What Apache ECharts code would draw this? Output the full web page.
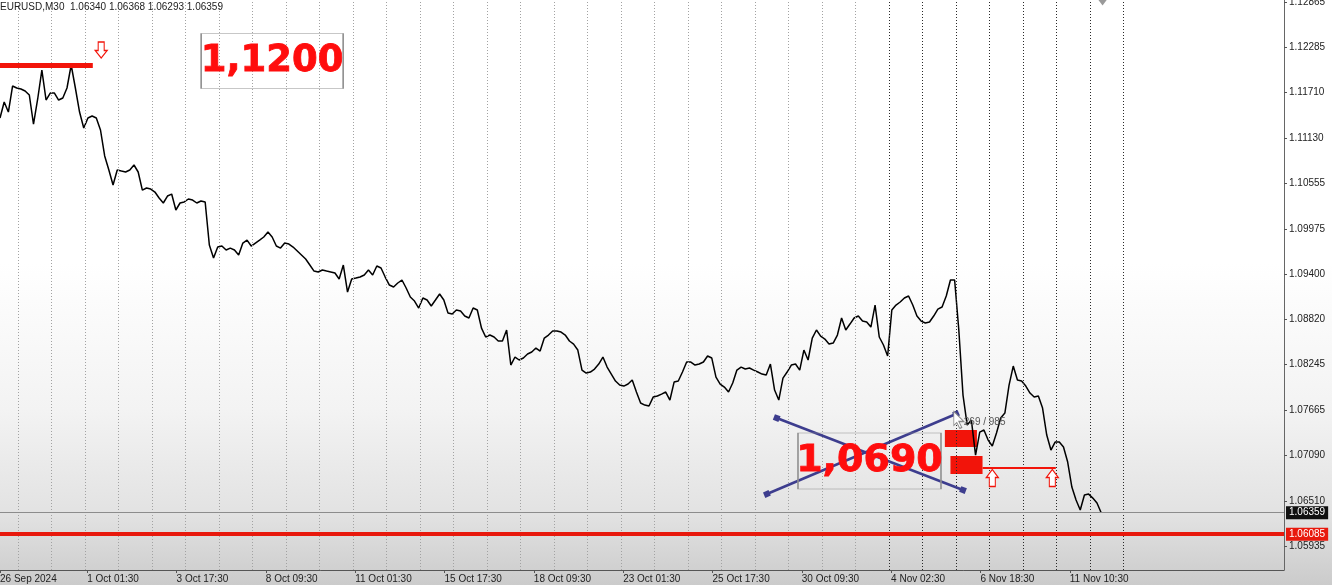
<!DOCTYPE html>
<html><head><meta charset="utf-8">
<script src="https://cdn.jsdelivr.net/npm/echarts@6/dist/echarts.min.js"></script>
<style>html,body{margin:0;padding:0;background:#fff}#c{width:1332px;height:585px}</style>
</head><body><div id="c"></div>
<script>
// ---------- data ----------
const headerText = 'EURUSD,M30  1.06340 1.06368 1.06293 1.06359';
const STEP_BARS = 6;            // one sample every 6 M30 bars (3 hours)
const TOTAL_BARS = 1840;        // bars visible across the plot
const closePrices = [
1.11387,1.11591,1.11463,1.11794,1.11769,1.11756,1.11731,1.11680,1.11310,1.11629,
1.11998,1.11616,1.11705,1.11705,1.11616,1.11642,1.11769,1.12062,1.11769,1.11463,
1.11259,1.11387,1.11412,1.11387,1.11234,1.10903,1.10724,1.10533,1.10724,1.10711,
1.10699,1.10724,1.10788,1.10699,1.10469,1.10495,1.10482,1.10444,1.10368,1.10304,
1.10393,1.10418,1.10215,1.10304,1.10317,1.10355,1.10342,1.10304,1.10329,1.10317,
1.09769,1.09603,1.09743,1.09756,1.09705,1.09730,1.09705,1.09641,1.09794,1.09832,
1.09756,1.09794,1.09832,1.09871,1.09934,1.09871,1.09756,1.09730,1.09794,1.09781,
1.09743,1.09692,1.09641,1.09590,1.09514,1.09437,1.09425,1.09450,1.09437,1.09425,
1.09412,1.09336,1.09514,1.09170,1.09336,1.09348,1.09361,1.09387,1.09450,1.09387,
1.09501,1.09476,1.09361,1.09259,1.09234,1.09285,1.09323,1.09221,1.09106,1.09055,
1.08966,1.09094,1.09068,1.08992,1.09068,1.09145,1.09068,1.08902,1.08890,1.08941,
1.08928,1.08864,1.08839,1.08966,1.08941,1.08711,1.08597,1.08622,1.08597,1.08546,
1.08546,1.08686,1.08240,1.08342,1.08304,1.08329,1.08380,1.08406,1.08456,1.08418,
1.08584,1.08622,1.08673,1.08673,1.08660,1.08622,1.08546,1.08507,1.08431,1.08176,
1.08138,1.08151,1.08189,1.08253,1.08342,1.08214,1.08125,1.08036,1.07985,1.07972,
1.07998,1.08049,1.07896,1.07756,1.07730,1.07718,1.07832,1.07845,1.07870,1.07896,
1.07794,1.08023,1.08036,1.08151,1.08278,1.08278,1.08240,1.08253,1.08278,1.08355,
1.08329,1.08087,1.07998,1.07959,1.07896,1.08011,1.08176,1.08214,1.08189,1.08202,
1.08176,1.08151,1.08125,1.08112,1.08253,1.07921,1.07794,1.08074,1.08151,1.08240,
1.08253,1.08176,1.08431,1.08304,1.08584,1.08686,1.08609,1.08571,1.08507,1.08520,
1.08622,1.08839,1.08686,1.08762,1.08839,1.08864,1.08800,1.08788,1.08724,1.09004,
1.08597,1.08495,1.08355,1.08941,1.09004,1.09043,1.09094,1.09119,1.09004,1.08864,
1.08800,1.08775,1.08788,1.08864,1.08953,1.08979,1.09119,1.09323,1.09323,1.08686,
1.07857,1.07475,1.07539,1.07093,1.07386,1.07412,1.07284,1.07208,1.07374,1.07565,
1.07628,1.07985,1.08227,1.08049,1.08036,1.07972,1.07883,1.07832,1.07845,1.07692,
1.07348,1.07157,1.07259,1.07259,1.07195,1.07004,1.06686,1.06520,1.06393,1.06584,
1.06596,1.06545,1.06482,1.06359
];
const xTickBars = [0,125,253,381,509,637,765,893,1021,1149,1277,1405,1533];
const xTickLabels = ['26 Sep 2024','1 Oct 01:30','3 Oct 17:30','8 Oct 09:30','11 Oct 01:30','15 Oct 17:30',
  '18 Oct 09:30','23 Oct 01:30','25 Oct 17:30','30 Oct 09:30','4 Nov 02:30','6 Nov 18:30','11 Nov 10:30'];
const daySeparatorBars = [26,74,122,170,218,266,314,362,410,458,506,554,602,650,698,746,794,842,
  890,938,986,1034,1082,1130,1178,1226,1274,1322,1370,1418,1466,1514,1562,1610];
const darkSeparatorFromBar = 1274;
const yTickValues = [1.05935,1.06510,1.07090,1.07665,1.08245,1.08820,1.09400,1.09975,1.10555,1.11130,1.11710,1.12285,1.12865];
const yMin = 1.05629, yMax = 1.12890;
const lastPrice = 1.06359;
const supportLevel = 1.06085;

// annotations (bar, price)
const topRedLine = [[0,1.12062],[133,1.12062]];
const downArrowAt = [145,1.12253];
const box1 = {text:'1,1200', at:[390,1.12113]};
const box2 = {text:'1,0690', at:[1246,1.07017]};
const crossLineA = [[1113,1.07565],[1380,1.06648]];
const crossLineB = [[1099,1.06597],[1370,1.07616]];
const redRect1 = [[1354,1.07412],[1400,1.07195]];
const redRect2 = [[1362,1.07081],[1408,1.06851]];
const thinRedLine = [[1408,1.06928],[1513,1.06928]];
const upArrowsAt = [[1422,1.06800],[1508,1.06800]];
const cursorAt = [1374,1.07540];
const measureText = {text:'269 / 985', at:[1411,1.07514]};
const shiftMarkAt = [1580,1.12858];

// ---------- chart ----------
const RED = '#f2140a';
const pricePoints = closePrices.map((p,i)=>[i*STEP_BARS,p]);
const chart = echarts.init(document.getElementById('c'), null, {renderer:'canvas'});
const F = 'Liberation Sans, Arial, sans-serif';
chart.setOption({
  animation:false,
  backgroundColor:{type:'linear',x:0,y:0,x2:0,y2:1,colorStops:[
    {offset:0,color:'#ffffff'},{offset:0.45,color:'#ffffff'},{offset:0.7,color:'#f3f3f3'},
    {offset:0.88,color:'#e2e2e2'},{offset:1,color:'#cbcbcb'}]},
  title:{text:headerText,left:0,top:0,padding:[2,0,0,0],textStyle:{fontSize:10,fontWeight:'normal',color:'#222',fontFamily:F}},
  grid:{left:0,right:48,top:0,bottom:15,outerBoundsMode:'none',containLabel:false},
  xAxis:{type:'value',min:0,max:TOTAL_BARS,
    axisLine:{show:true,onZero:false,lineStyle:{color:'#555',width:1}},
    axisTick:{show:true,customValues:xTickBars,length:3,lineStyle:{color:'#555'}},
    axisLabel:{customValues:xTickBars,formatter:v=>xTickLabels[xTickBars.indexOf(v)]||'',
      align:'left',margin:4,fontSize:10,color:'#222',fontFamily:F},
    splitLine:{show:false}},
  yAxis:{type:'value',position:'right',min:yMin,max:yMax,
    axisLine:{show:true,onZero:false,lineStyle:{color:'#666',width:1}},
    axisTick:{show:true,customValues:yTickValues,length:3,lineStyle:{color:'#555'}},
    axisLabel:{customValues:yTickValues,formatter:v=>v.toFixed(5),margin:5,fontSize:10,color:'#222',fontFamily:F},
    splitLine:{show:false}},
  series:[
    {type:'line',name:'separators',data:[],z:1,silent:true,
      markLine:{silent:true,symbol:'none',precision:5,label:{show:false},
        data:daySeparatorBars.map(b=>({xAxis:b,lineStyle:{color:b>=darkSeparatorFromBar?'#2a2a2a':'#a2a2a2',type:[1,2],width:1}}))},
      markArea:{silent:true,itemStyle:{color:RED,opacity:1},
        data:[[{coord:redRect1[0]},{coord:redRect1[1]}],[{coord:redRect2[0]},{coord:redRect2[1]}]]}
    },
    {type:'line',name:'levels',data:[],z:2,silent:true,
      markLine:{silent:true,symbol:'none',precision:5,
        data:[
          {yAxis:lastPrice,lineStyle:{color:'#8c8c8c',width:1,type:'solid'},
            label:{show:true,position:'end',distance:2,formatter:lastPrice.toFixed(5),color:'#fff',backgroundColor:'#111',
              padding:[2,3,1,3],fontSize:10,fontFamily:F}},
          {yAxis:supportLevel,lineStyle:{color:'#e8180c',width:4,type:'solid'},
            label:{show:true,position:'end',distance:2,formatter:supportLevel.toFixed(5),color:'#fff',backgroundColor:'#e8180c',
              padding:[2,3,1,3],fontSize:10,fontFamily:F}}
        ]}
    },
    {type:'line',name:'EURUSD',data:pricePoints,z:3,showSymbol:false,
      lineStyle:{color:'#000',width:1.5},itemStyle:{color:'#000'}},
    {type:'line',name:'boxes',data:[],z:4,silent:true,
      markPoint:{silent:true,data:[
        {coord:box1.at,symbol:'rect',symbolSize:[142,55],itemStyle:{color:'rgba(0,0,0,0)',borderColor:'#8f8f8f',borderWidth:1},
          label:{show:true,position:'inside',formatter:box1.text,fontSize:37,fontWeight:'bold',color:'#ff0d0d',fontFamily:'DejaVu Sans',
            textBorderColor:'#ff0d0d',textBorderWidth:0.8}},
        {coord:box2.at,symbol:'rect',symbolSize:[143,56],itemStyle:{color:'rgba(0,0,0,0)',borderColor:'#8f8f8f',borderWidth:1},
          label:{show:true,position:'inside',formatter:box2.text,fontSize:38,fontWeight:'bold',color:'#ff0d0d',fontFamily:'DejaVu Sans',
            textBorderColor:'#ff0d0d',textBorderWidth:0.8}},
        {coord:downArrowAt,symbol:'path://M3,0L9,0L9,8L12,8L6,15L0,8L3,8Z',symbolSize:[12,16],
          itemStyle:{color:'#fff',borderColor:RED,borderWidth:1.2},label:{show:false}},
        {coord:upArrowsAt[0],symbol:'path://M6,0L12,7L9,7L9,15L3,15L3,7L0,7Z',symbolSize:[12,17],
          itemStyle:{color:'#fff',borderColor:RED,borderWidth:1.2},label:{show:false}},
        {coord:upArrowsAt[1],symbol:'path://M6,0L12,7L9,7L9,15L3,15L3,7L0,7Z',symbolSize:[12,17],
          itemStyle:{color:'#fff',borderColor:RED,borderWidth:1.2},label:{show:false}},
        {coord:shiftMarkAt,symbol:'path://M0,0L8,0L4,6Z',symbolSize:[9,6],itemStyle:{color:'#9a9a9a'},label:{show:false}},
        {coord:measureText.at,symbol:'rect',symbolSize:[1,1],itemStyle:{color:'rgba(0,0,0,0)'},
          label:{show:true,position:'inside',formatter:measureText.text,fontSize:10,color:'#555',fontFamily:F}},
        {coord:cursorAt,symbol:'path://M0,0L0,14L3,11L6,17L8,16L5,10L10,10Z',symbolSize:[10,17],
          itemStyle:{color:'#fff',borderColor:'#888',borderWidth:1},label:{show:false}}
      ]},
      markLine:{silent:true,symbol:'none',precision:5,label:{show:false},
        data:[
          [{coord:topRedLine[0],lineStyle:{color:RED,width:5,type:'solid'}},{coord:topRedLine[1]}],
          [{coord:thinRedLine[0],lineStyle:{color:RED,width:2,type:'solid'}},{coord:thinRedLine[1]}]
        ]}
    },
    {type:'line',name:'cross',data:[],z:5,silent:true,
      markLine:{silent:true,symbol:['rect','rect'],symbolSize:6,precision:5,label:{show:false},
        lineStyle:{color:'#3d3d8e',width:2.5,type:'solid'},
        data:[
          [{coord:crossLineA[0]},{coord:crossLineA[1]}],
          [{coord:crossLineB[0]},{coord:crossLineB[1]}]
        ]}
    }
  ]
});
</script></body></html>
